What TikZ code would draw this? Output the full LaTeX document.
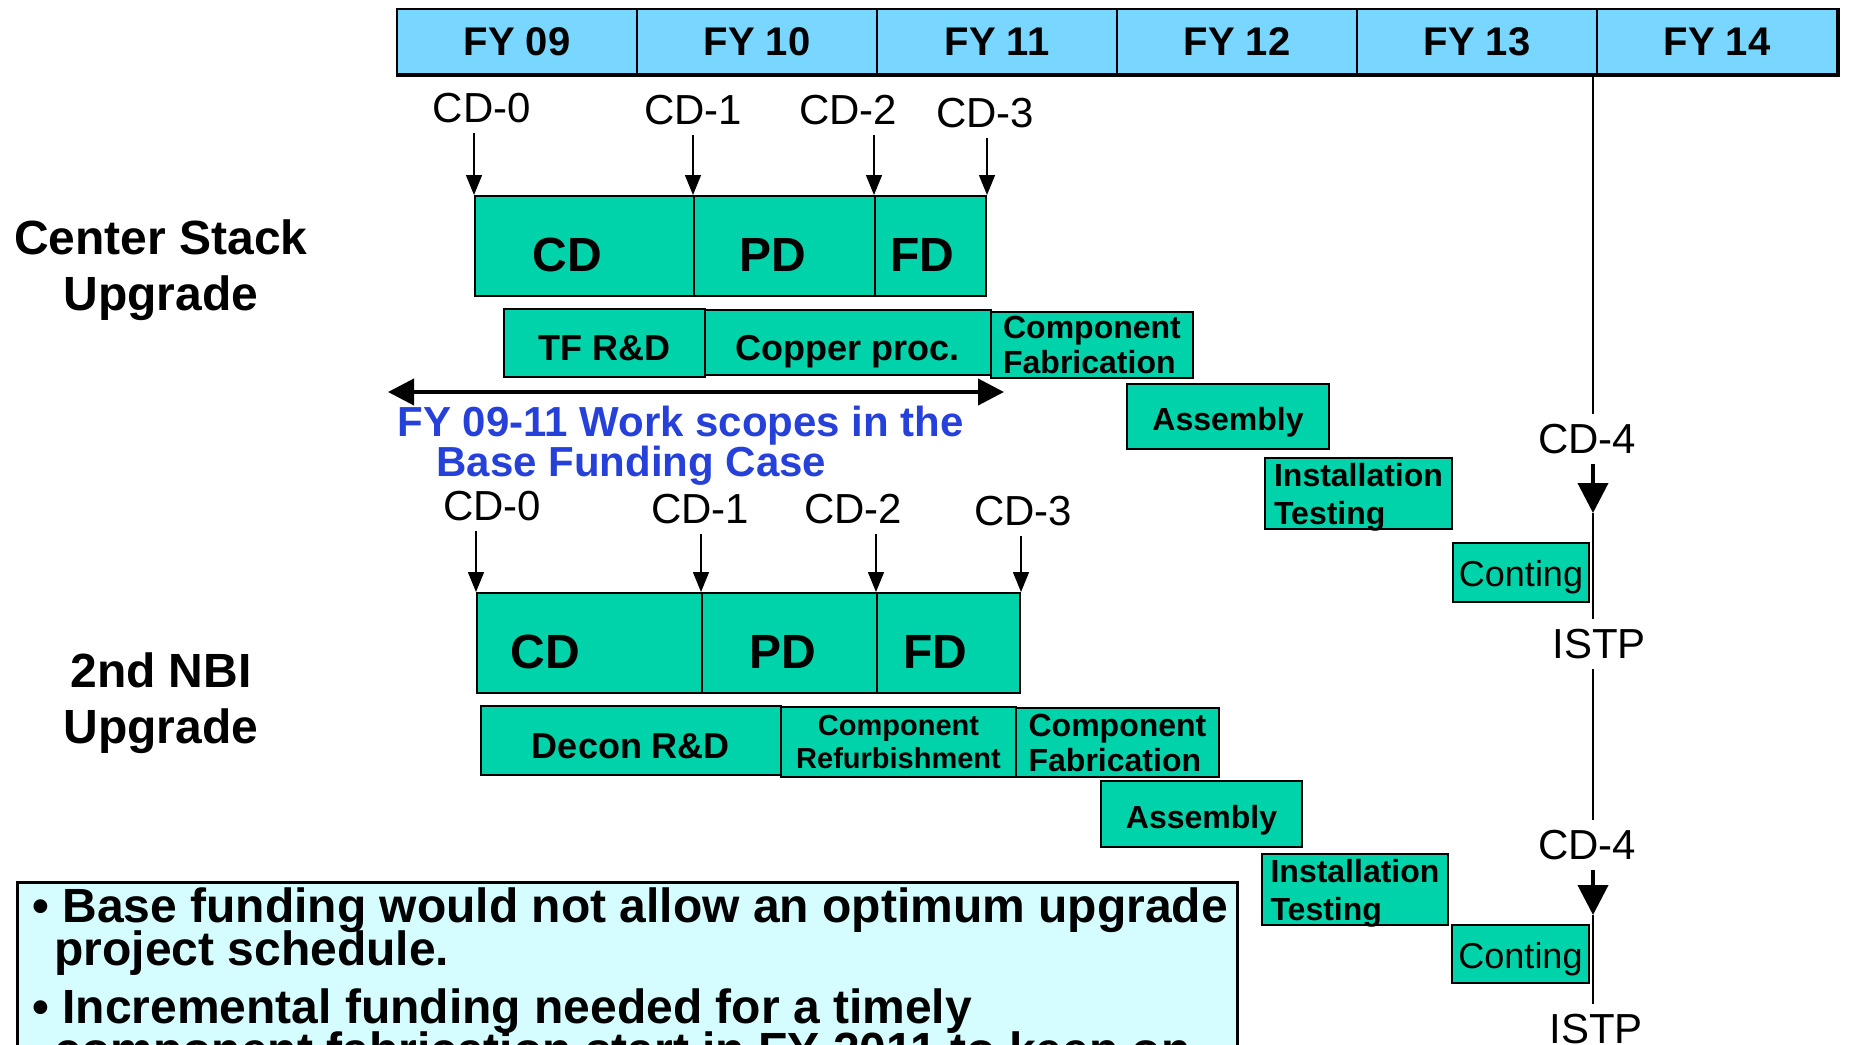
\documentclass[tikz,border=0pt]{standalone}
\usepackage{fontspec}
\setmainfont{Liberation Sans}
\usetikzlibrary{arrows.meta}

\definecolor{barblue}{RGB}{120,214,255}
\definecolor{taskgreen}{RGB}{0,210,170}
\definecolor{notecyan}{RGB}{213,253,255}
\definecolor{scopeblue}{RGB}{38,64,218}

\lineskiplimit=-100pt

\begin{document}
\begin{tikzpicture}[x=0.5pt,y=-0.5pt]
        % Define styles
        \tikzset{
            fycell/.style={rectangle, draw, line width=1pt, fill=barblue, minimum width=120pt, minimum height=32.5pt, inner sep=0pt, font=\fontsize{20}{24}\selectfont\bfseries},
            phase/.style={rectangle, draw, line width=1pt, fill=taskgreen, minimum height=50pt, inner sep=0pt, text height=25pt, text depth=0pt, font=\fontsize{24}{28}\selectfont\bfseries},
            task/.style={rectangle, draw, line width=1pt, fill=taskgreen, inner sep=0pt, font=\fontsize{16}{17.5}\selectfont\bfseries},
            single/.style={text height=14pt, text depth=0pt},
            widetask/.style={task, single, text height=17.5pt, font=\fontsize{18}{20}\selectfont\bfseries},
            group/.style={align=center, inner sep=0pt, font=\fontsize{24}{28}\selectfont\bfseries},
            milestone/.style={inner sep=5pt, font=\fontsize{21}{24}\selectfont},
            scopenote/.style={align=left, inner sep=0pt, text=scopeblue, font=\fontsize{21}{20}\selectfont\bfseries},
            notebox/.style={rectangle, draw, line width=1.5pt, fill=notecyan},
            notetext/.style={align=left, inner sep=0pt, font=\fontsize{24}{21.5}\selectfont\bfseries},
            cdarrow/.style={-{Triangle[width=8pt,length=10pt]}, line width=0.75pt},
            bigarrow/.style={-{Triangle[width=15pt,length=15pt]}, line width=2pt},
            spanarrow/.style={{Triangle[width=13pt,length=13pt]}-{Triangle[width=13pt,length=13pt]}, line width=2pt}
        }
        \path[use as bounding box] (0,0) rectangle (1849,1045);
        \clip (0,0) rectangle (1849,1045);

        % Fiscal year bar
        \foreach \i/\yr in {0/09,1/10,2/11,3/12,4/13,5/14}
            \node[fycell] (fy_\i) at (517+240*\i,41.5) {FY \yr};
        \draw[line width=2pt] (fy_0.south west) -- (fy_5.south east) -- (fy_5.north east);

        % Center stack upgrade
        \node[group, anchor=north] (cs_label) at (161,219) {Center Stack\\Upgrade};
        \node[milestone] (cs_m0) at (482,108) {CD-0};
        \node[milestone] (cs_m1) at (693,110) {CD-1};
        \node[milestone] (cs_m2) at (848,110) {CD-2};
        \node[milestone] (cs_m3) at (985,113) {CD-3};
        \node[phase, minimum width=109.5pt] (cs_cd) at (584.5,246) {CD\hspace*{17pt}};
        \node[phase, minimum width=90.5pt] (cs_pd) at (784.5,246) {PD\hspace*{12pt}};
        \node[phase, minimum width=55.5pt] (cs_fd) at (930.5,246) {FD\hspace*{8pt}};
        \node[widetask, minimum width=100.5pt, minimum height=34pt] (cs_tf) at (604.5,343) {TF R\&D};
        \node[widetask, minimum width=143pt, minimum height=32.5pt] (cs_cu) at (848,342.5) {Copper proc.};
        \node[task, align=left, minimum width=101pt, minimum height=33pt] (cs_cf) at (1092,345) {Component\\Fabrication};
        \node[task, single, minimum width=101pt, minimum height=32.5pt] (cs_as) at (1228,416.5) {Assembly};
        \node[task, align=left, text depth=0pt, minimum width=93.5pt, minimum height=35.5pt, font=\fontsize{16}{19}\selectfont\bfseries] (cs_it) at (1358.5,493.5) {Installation\\Testing};
        \node[task, single, minimum width=68pt, minimum height=29.5pt, font=\fontsize{18}{20}\selectfont] (cs_co) at (1521,572.5) {Conting};

        \draw[cdarrow] (cs_cd.north west |- cs_m0.south) -- (cs_cd.north west);
        \draw[cdarrow] (cs_pd.north west |- cs_m1.south) -- (cs_pd.north west);
        \draw[cdarrow] (cs_fd.north west |- cs_m2.south) -- (cs_fd.north west);
        \draw[cdarrow] (cs_fd.north east |- cs_m3.south) -- (cs_fd.north east);

        % Base funding span
        \coordinate (scope_left) at (388,392);
        \coordinate (scope_right) at (1004,392);
        \draw[spanarrow] (scope_left) -- (scope_right);
        \node[scopenote, anchor=north west] (scope_note) at (397,406) {FY 09-11 Work scopes in the\\\hspace*{19.5pt}Base Funding Case};

        % 2nd NBI upgrade
        \node[group, anchor=north] (nbi_label) at (161,652) {2nd NBI\\Upgrade};
        \node[milestone] (nbi_m0) at (492,506) {CD-0};
        \node[milestone] (nbi_m1) at (700,509) {CD-1};
        \node[milestone] (nbi_m2) at (853,509) {CD-2};
        \node[milestone] (nbi_m3) at (1023,511) {CD-3};
        \node[phase, minimum width=112.5pt] (nbi_cd) at (589.5,643) {CD\hspace*{44pt}};
        \node[phase, minimum width=87.5pt] (nbi_pd) at (789.5,643) {PD\hspace*{7pt}};
        \node[phase, minimum width=71.5pt] (nbi_fd) at (948.5,643) {FD\hspace*{13pt}};
        \node[widetask, minimum width=150pt, minimum height=34.5pt] (nbi_dr) at (631,740.5) {Decon R\&D};
        \node[task, align=center, minimum width=117.5pt, minimum height=35pt, font=\fontsize{14.5}{16.5}\selectfont\bfseries] (nbi_cr) at (898.5,742) {Component\\Refurbishment};
        \node[task, align=left, minimum width=101.5pt, minimum height=34.5pt] (nbi_cf) at (1117.5,742.5) {Component\\Fabrication};
        \node[task, single, minimum width=100.5pt, minimum height=33pt] (nbi_as) at (1201.5,814) {Assembly};
        \node[task, align=left, text depth=0pt, minimum width=93pt, minimum height=35.5pt, font=\fontsize{16}{19}\selectfont\bfseries] (nbi_it) at (1355,889.5) {Installation\\Testing};
        \node[task, single, minimum width=68.5pt, minimum height=29pt, font=\fontsize{18}{20}\selectfont] (nbi_co) at (1520.5,954) {Conting};

        \draw[cdarrow] (nbi_cd.north west |- nbi_m0.south) -- (nbi_cd.north west);
        \draw[cdarrow] (nbi_pd.north west |- nbi_m1.south) -- (nbi_pd.north west);
        \draw[cdarrow] (nbi_fd.north west |- nbi_m2.south) -- (nbi_fd.north west);
        \draw[cdarrow] (nbi_fd.north east |- nbi_m3.south) -- (nbi_fd.north east);

        % CD-4 / ISTP milestone line
        \coordinate (ms_top) at (1593,74);
        \node[milestone] (cs_m4) at (1587,439) {CD-4};
        \node[milestone] (cs_istp) at (1599,644) {ISTP};
        \node[milestone] (nbi_m4) at (1587,845) {CD-4};
        \node[milestone] (nbi_istp) at (1596,1029) {ISTP};
        \coordinate (cs_m4_tip) at (1593,513);
        \coordinate (nbi_m4_tip) at (1593,915);
        \draw[line width=1pt] (ms_top) -- (ms_top |- cs_m4.north);
        \draw[bigarrow] (ms_top |- cs_m4.south) -- (cs_m4_tip);
        \draw[line width=1pt] (cs_m4_tip) -- (ms_top |- cs_istp.north);
        \draw[line width=1pt] (ms_top |- cs_istp.south) -- (ms_top |- nbi_m4.north);
        \draw[bigarrow] (ms_top |- nbi_m4.south) -- (nbi_m4_tip);
        \draw[line width=1pt] (nbi_m4_tip) -- (ms_top |- nbi_istp.north);

        % Funding note
        \node[notebox, anchor=north west, minimum width=610pt, minimum height=100pt] (note_box) at (16,881) {};
        \node[notetext, anchor=north west] (note_text) at ([xshift=8pt,yshift=-3pt]note_box.north west) {\textbullet{} Base funding would not allow an optimum upgrade\\\hspace*{11pt}project schedule.\\[7.5pt]\textbullet{} Incremental funding needed for a timely\\\hspace*{11pt}component fabrication start in FY 2011 to keep on};
\end{tikzpicture}
\end{document}
